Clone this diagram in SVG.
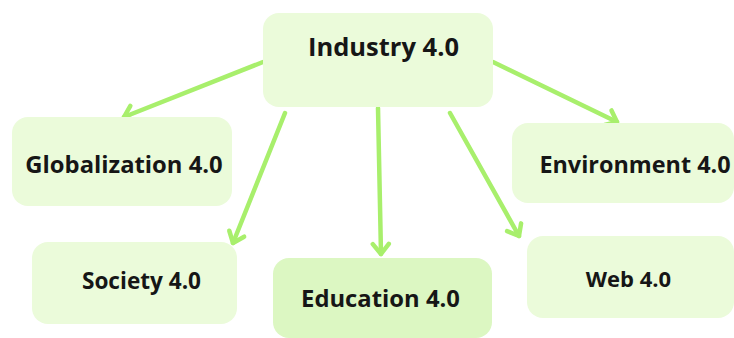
<svg xmlns="http://www.w3.org/2000/svg" width="734" height="338" viewBox="0 0 734 338">
<style>
.box{fill:#ebfbda;}
.box2{fill:#dcf7c2;}
.lbl{font-family:"Open Sans","Liberation Sans",sans-serif;font-weight:bold;font-size:23.5px;fill:#161616;}
.conn{stroke:#a8ef6c;stroke-width:4.5;stroke-linecap:round;fill:none;marker-end:url(#chev);}
</style>
<defs>
<marker id="chev" markerUnits="userSpaceOnUse" viewBox="-14 -12 18 24" refX="0" refY="0" markerWidth="18" markerHeight="24" orient="auto">
<path d="M-10,-8 L0,0 L-10,8" fill="none" stroke="#a8ef6c" stroke-width="4.5" stroke-linecap="round" stroke-linejoin="round"/>
</marker>
</defs>
<rect width="734" height="338" fill="#ffffff"/>
<g id="connectors">
<line class="conn" x1="263" y1="62" x2="124" y2="117"/>
<line class="conn" x1="285" y1="113" x2="233" y2="243"/>
<line class="conn" x1="378" y1="108" x2="381" y2="254"/>
<line class="conn" x1="450" y1="113" x2="519" y2="236"/>
<line class="conn" x1="493" y1="62" x2="617" y2="122"/>
</g>
<g id="industry">
<rect class="box" x="263" y="13" width="230" height="94" rx="16"/>
<text class="lbl" x="383.5" y="56" text-anchor="middle" style="font-size:25.5px">Industry 4.0</text>
</g>
<g id="globalization">
<rect class="box" x="12" y="117" width="220" height="89" rx="16"/>
<text class="lbl" x="124" y="173" text-anchor="middle" style="font-size:23.8px">Globalization 4.0</text>
</g>
<g id="society">
<rect class="box" x="32" y="242" width="205" height="82" rx="16"/>
<text class="lbl" x="141.5" y="289" text-anchor="middle" style="font-size:22.6px">Society 4.0</text>
</g>
<g id="education">
<rect class="box2" x="273" y="258" width="219" height="80" rx="16"/>
<text class="lbl" x="380.5" y="307" text-anchor="middle" style="font-size:23.8px">Education 4.0</text>
</g>
<g id="environment">
<rect class="box" x="512" y="123" width="222" height="80" rx="16"/>
<text class="lbl" x="635" y="173" text-anchor="middle" style="font-size:23.4px">Environment 4.0</text>
</g>
<g id="web">
<rect class="box" x="527" y="236" width="207" height="82" rx="16"/>
<text class="lbl" x="628.5" y="287" text-anchor="middle" style="font-size:22px">Web 4.0</text>
</g>
</svg>
